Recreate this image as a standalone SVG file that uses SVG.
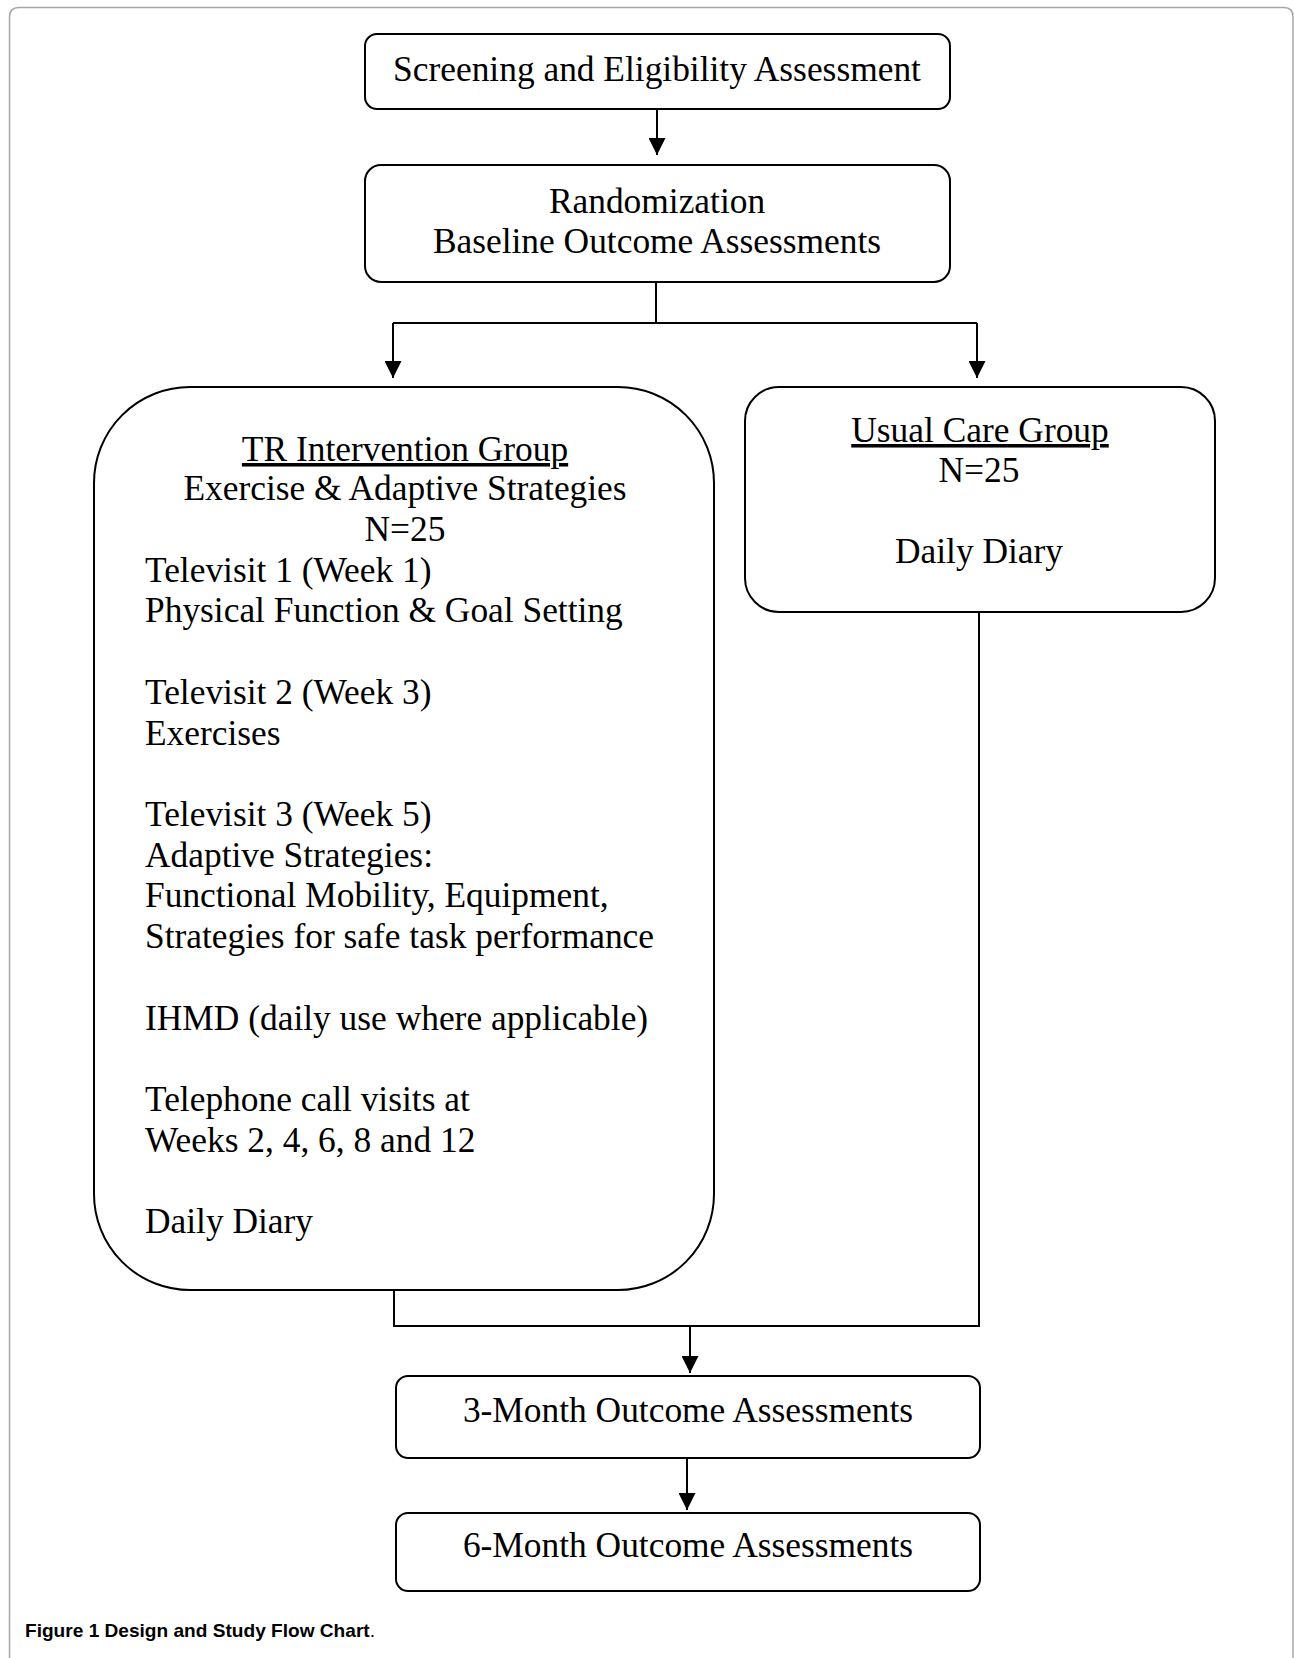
<svg xmlns="http://www.w3.org/2000/svg" width="1294" height="1658" viewBox="0 0 1294 1658">
<defs>
<style>
.box{fill:#fff;stroke:#000;stroke-width:2}
.t{font-family:"Liberation Serif","Times New Roman",serif;font-size:35.4px;fill:#000}
.c{text-anchor:middle}
.u{text-decoration:underline}
.conn{fill:none;stroke:#000;stroke-width:2}
.frame{fill:none;stroke:#a6a6a6;stroke-width:1.5}
.cap{font-family:"Liberation Sans",Arial,sans-serif;font-size:19px;fill:#000}
</style>
<marker id="arr" markerUnits="userSpaceOnUse" markerWidth="17" markerHeight="17" refX="17" refY="8.5" orient="auto">
<path d="M0,0 L17,8.5 L0,17 Z" fill="#000"/>
</marker>
</defs>
<rect width="1294" height="1658" fill="#fff"/>
<path class="frame" d="M9.5,1658 L9.5,17 Q9.5,7.5 19,7.5 L1284,7.5 Q1293,7.5 1293,17 L1293,1658"/>

<g id="connectors">
<path class="conn" d="M657,109 L657,155" marker-end="url(#arr)"/>
<path class="conn" d="M656,282 L656,322"/>
<path class="conn" d="M393,323 L977,323"/>
<path class="conn" d="M393,323 L393,378" marker-end="url(#arr)"/>
<path class="conn" d="M977,323 L977,378" marker-end="url(#arr)"/>
<path class="conn" d="M394,1290 L394,1326 L979,1326 L979,612"/>
<path class="conn" d="M690,1326 L690,1373" marker-end="url(#arr)"/>
<path class="conn" d="M687,1458 L687,1510" marker-end="url(#arr)"/>
</g>

<g id="screening">
<rect class="box" x="365" y="34" width="585" height="75" rx="12"/>
<text class="t c" x="657" y="81">Screening and Eligibility Assessment</text>
</g>

<g id="randomization">
<rect class="box" x="365" y="165" width="585" height="117" rx="16"/>
<text class="t c" x="657" y="213">Randomization</text>
<text class="t c" x="657" y="253">Baseline Outcome Assessments</text>
</g>

<g id="tr-group">
<rect class="box" x="94" y="387" width="620" height="903" rx="96"/>
<text class="t c u" x="405" y="461">TR Intervention Group</text>
<text class="t c" x="405" y="500">Exercise &amp; Adaptive Strategies</text>
<text class="t c" x="405" y="541">N=25</text>
<text class="t" x="145" y="582">Televisit 1 (Week 1)</text>
<text class="t" x="145" y="622">Physical Function &amp; Goal Setting</text>
<text class="t" x="145" y="704">Televisit 2 (Week 3)</text>
<text class="t" x="145" y="745">Exercises</text>
<text class="t" x="145" y="826">Televisit 3 (Week 5)</text>
<text class="t" x="145" y="867">Adaptive Strategies:</text>
<text class="t" x="145" y="907">Functional Mobility, Equipment,</text>
<text class="t" x="145" y="948">Strategies for safe task performance</text>
<text class="t" x="145" y="1030">IHMD (daily use where applicable)</text>
<text class="t" x="145" y="1111">Telephone call visits at</text>
<text class="t" x="145" y="1152">Weeks 2, 4, 6, 8 and 12</text>
<text class="t" x="145" y="1233">Daily Diary</text>
</g>

<g id="usual-care">
<rect class="box" x="745" y="387" width="470" height="225" rx="34"/>
<text class="t c u" x="980" y="442">Usual Care Group</text>
<text class="t c" x="979" y="482">N=25</text>
<text class="t c" x="979" y="563">Daily Diary</text>
</g>

<g id="three-month">
<rect class="box" x="396" y="1376" width="584" height="82" rx="12"/>
<text class="t c" x="688" y="1422">3-Month Outcome Assessments</text>
</g>

<g id="six-month">
<rect class="box" x="396" y="1513" width="584" height="78" rx="12"/>
<text class="t c" x="688" y="1557">6-Month Outcome Assessments</text>
</g>

<text class="cap" x="25" y="1637" textLength="350" lengthAdjust="spacingAndGlyphs"><tspan font-weight="bold">Figure 1 Design and Study Flow Chart</tspan>.</text>
</svg>
